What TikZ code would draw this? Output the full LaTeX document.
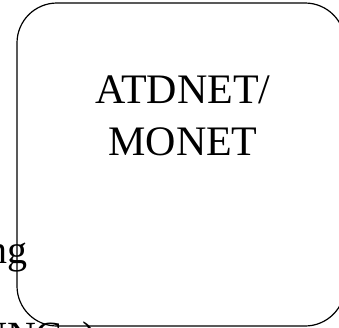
\documentclass[tikz,border=0pt]{standalone}
\usepackage{fontspec}
\setmainfont{Liberation Serif}
\usetikzlibrary{positioning}

\begin{document}
\begin{tikzpicture}[x=1pt,y=-1pt,
  atdbox/.style={rectangle,draw=black,line width=1.2pt,rounded corners=40pt,
               minimum width=328pt,minimum height=323pt,inner sep=0pt,outer sep=0pt},
  big/.style={font=\fontsize{42}{52}\selectfont,align=center,inner sep=0pt},
  side/.style={font=\fontsize{40}{48}\selectfont,inner sep=0pt}
]
  \fill[white] (0,0) rectangle (339,327);
  \begin{scope}
  \clip (0,0) rectangle (339,327);
  \node[atdbox] (atd) at (181,164.5) {};
  \node[big,anchor=north] (atdname) at (183,76) {ATDNET/\\MONET};
  \node[side,anchor=base east] (lefttext) at (28,263) {ng};
  \node[side,anchor=base west] (bottomtext) at (-22,349) {UNC\ \ )};
  \end{scope}
  \pgfresetboundingbox
  \useasboundingbox (0,0) rectangle (339,327);
\end{tikzpicture}
\end{document}
